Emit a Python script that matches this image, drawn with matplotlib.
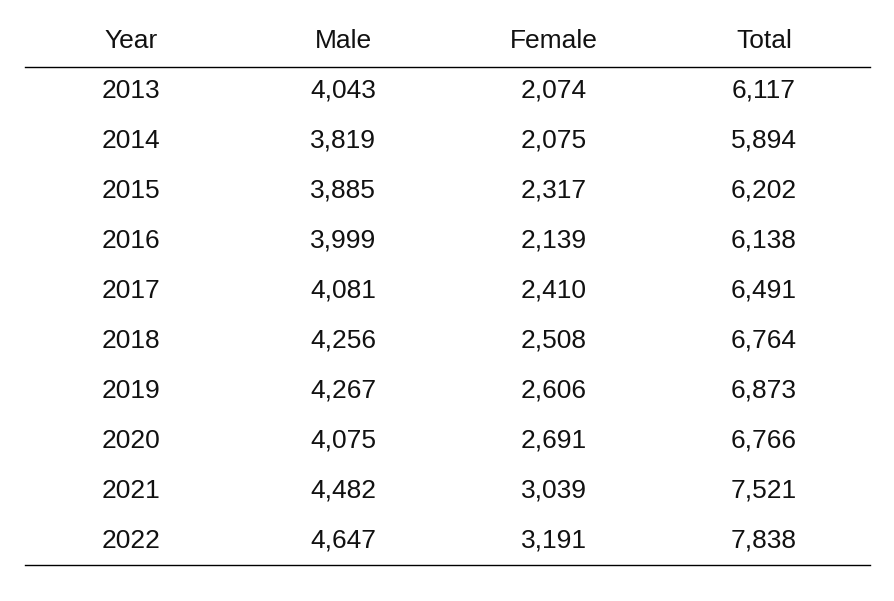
import matplotlib
matplotlib.use("Agg")
import matplotlib.pyplot as plt

headers = ["Year", "Male", "Female", "Total"]
years = ["2013","2014","2015","2016","2017","2018","2019","2020","2021","2022"]
male = [4043,3819,3885,3999,4081,4256,4267,4075,4482,4647]
female = [2074,2075,2317,2139,2410,2508,2606,2691,3039,3191]
total = [6117,5894,6202,6138,6491,6764,6873,6766,7521,7838]

fig = plt.figure(figsize=(8.95, 6.01), dpi=100)
ax = fig.add_axes([0, 0, 1, 1])
ax.set_xlim(0, 895); ax.set_ylim(601, 0); ax.axis("off")
font = dict(family="Liberation Sans", fontsize=19, ha="center", va="baseline", color="#111111")
xs = [131, 343, 554, 764]
for x, h in zip(xs, headers):
    ax.text(x, 48, h, **font)
ax.plot([25, 870], [67, 67], color="black", lw=1)
for i, (y, m, f, t) in enumerate(zip(years, male, female, total)):
    yy = 97.5 + 50 * i
    for x, v in zip(xs, [y, f"{m:,}", f"{f:,}", f"{t:,}"]):
        ax.text(x, yy, v, **font)
ax.plot([25, 870], [565, 565], color="black", lw=1)
fig.savefig("out.png", dpi=100)
